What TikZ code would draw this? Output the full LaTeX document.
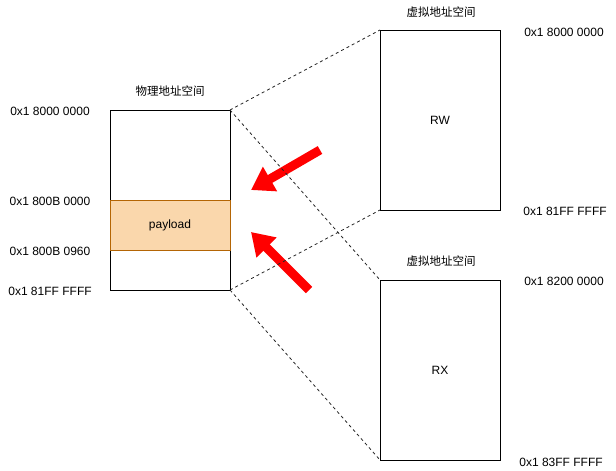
\documentclass[tikz,border=0pt]{standalone}
\usepackage{fontspec}
\setmainfont{Liberation Sans}
\newfontfamily\cjk{Noto Sans CJK SC}
\usetikzlibrary{arrows.meta}
\definecolor{payfill}{HTML}{FAD7AC}
\definecolor{paydraw}{HTML}{B46504}
\definecolor{arrred}{HTML}{FF0000}
\begin{document}
\begin{tikzpicture}[x=1pt,y=-1pt,
  box/.style={draw=black,line width=1pt,fill=white,rectangle,inner sep=0pt,outer sep=0pt,anchor=north west},
  lbl/.style={font=\fontsize{12}{14}\selectfont,inner sep=0pt},
  cjklbl/.style={font=\fontsize{11.5}{13}\selectfont\cjk,inner sep=0pt},
  mapline/.style={draw=black!85,line width=0.8pt,dash pattern=on 3pt off 3pt},
  bigarrow/.style={draw=arrred,line width=9pt,-{Triangle[width=27pt,length=22pt]}}
]
\useasboundingbox (0,0) rectangle (616,471);
% physical
\node[box,minimum width=120pt,minimum height=180pt] (phys) at (110,110) {};
\node[box,draw=paydraw,fill=payfill,minimum width=120pt,minimum height=50pt] (pay) at (110,200) {};
\node[lbl] (paytxt) at (pay.center) {payload};
\node[cjklbl] (physt) at (170,91) {物理地址空间};
\node[lbl] (l1) at (50,111) {0x1 8000 0000};
\node[lbl] (l2) at (50,201) {0x1 800B 0000};
\node[lbl] (l3) at (50,251) {0x1 800B 0960};
\node[lbl] (l4) at (50,291) {0x1 81FF FFFF};
% virtual
\node[box,minimum width=120pt,minimum height=180pt] (rw) at (380,30) {};
\node[lbl] (rwt) at (rw.center) {RW};
\node[box,minimum width=120pt,minimum height=180pt] (rx) at (380,280) {};
\node[lbl] (rxt) at (rx.center) {RX};
\node[cjklbl] (v1) at (441,12) {虚拟地址空间};
\node[cjklbl] (v2) at (441,261) {虚拟地址空间};
\node[lbl] (r1) at (564,32) {0x1 8000 0000};
\node[lbl] (r2) at (565,211) {0x1 81FF FFFF};
\node[lbl] (r3) at (564,281) {0x1 8200 0000};
\node[lbl] (r4) at (561,462) {0x1 83FF FFFF};
% red arrows
\coordinate (a1s) at (320,150);
\coordinate (a1e) at (251,190);
\coordinate (a2s) at (309,290);
\coordinate (a2e) at (251,232);
\draw[bigarrow] (a1s) -- (a1e);
\draw[bigarrow] (a2s) -- (a2e);
% mapping lines
\draw[mapline] (phys.north east) -- (rw.north west);
\draw[mapline] (phys.north east) -- (rx.north west);
\draw[mapline] (phys.south east) -- (rw.south west);
\draw[mapline] (phys.south east) -- (rx.south west);
\end{tikzpicture}
\end{document}
